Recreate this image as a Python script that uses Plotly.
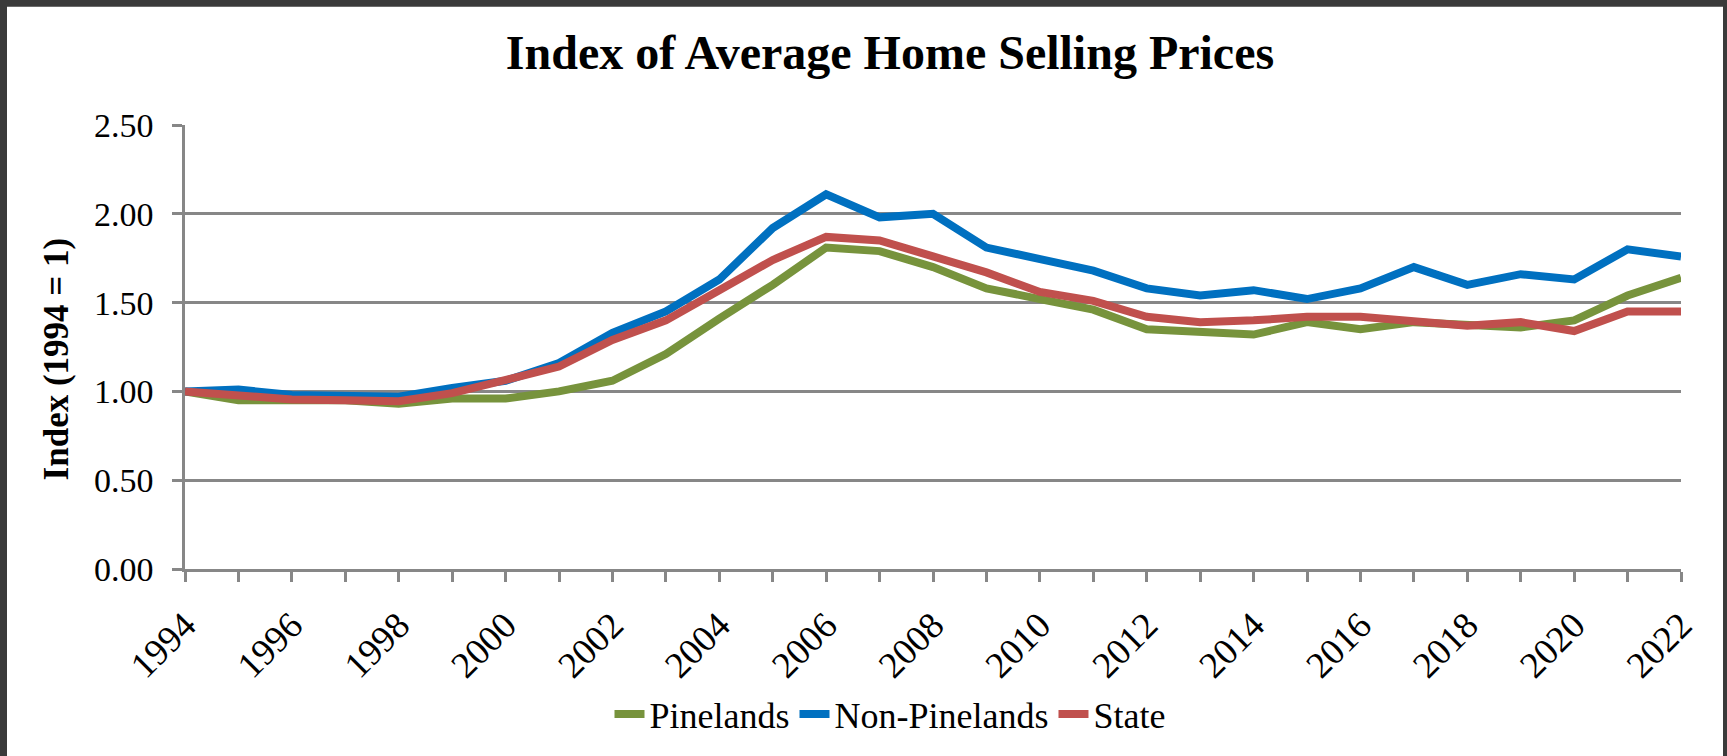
import plotly.graph_objects as go

years = list(range(1994, 2023))
pinelands = [1.00, 0.95, 0.95, 0.95, 0.93, 0.96, 0.96, 1.00, 1.06, 1.21,
             1.41, 1.60, 1.81, 1.79, 1.70, 1.58, 1.52, 1.46, 1.35, 1.34,
             1.32, 1.39, 1.35, 1.39, 1.37, 1.36, 1.40, 1.54, 1.64]
non_pinelands = [1.00, 1.01, 0.98, 0.97, 0.97, 1.02, 1.06, 1.16, 1.33, 1.45,
                 1.63, 1.92, 2.11, 1.98, 2.00, 1.81, 1.75, 1.68, 1.58, 1.54,
                 1.57, 1.52, 1.58, 1.70, 1.60, 1.66, 1.63, 1.80, 1.76]
state = [1.00, 0.98, 0.955, 0.95, 0.945, 0.99, 1.065, 1.14, 1.29, 1.40,
         1.57, 1.74, 1.87, 1.85, 1.76, 1.67, 1.56, 1.51, 1.42, 1.39,
         1.40, 1.42, 1.42, 1.40, 1.37, 1.39, 1.34, 1.45, 1.45]

series_names = ["Pinelands", "Non-Pinelands", "State"]
series_colors = ["#77933C", "#0070C0", "#C0504D"]

W, H = 1727, 756
L, R, T, B = 185, 46, 125, 184
pw, ph = W - L - R, H - T - B

def px_x(p):
    return (p - L) / pw

def px_y(p):
    return (H - B - p) / ph

FONT = "Liberation Serif"
GRID = "#878787"

fig = go.Figure()
for name, vals, col in zip(series_names, [pinelands, non_pinelands, state], series_colors):
    fig.add_trace(go.Scatter(x=years, y=vals, name=name, mode="lines",
                             line=dict(color=col, width=8)))

fig.update_layout(
    width=W, height=H,
    margin=dict(l=L, r=R, t=T, b=B, pad=0),
    paper_bgcolor="#3a3a3a",
    plot_bgcolor="white",
    font=dict(family=FONT, color="black", size=34),
    title=dict(text="Index of Average Home Selling Prices",
               font=dict(family=FONT, size=48, color="black", weight="bold"),
               x=px_x(890), xref="paper", xanchor="center",
               y=1 - 52 / H, yref="container", yanchor="middle"),
    showlegend=True,
    legend=dict(orientation="h", x=px_x(890), xanchor="center",
                y=px_y(718), yanchor="middle",
                font=dict(family=FONT, size=36, color="black"),
                bgcolor="rgba(0,0,0,0)", traceorder="normal"),
    shapes=[dict(type="rect", xref="paper", yref="paper",
                 x0=px_x(7), x1=px_x(1723), y0=px_y(H + 5), y1=px_y(6),
                 fillcolor="white", line=dict(width=0), layer="below")],
    annotations=[dict(text="<b>Index (1994 = 1)</b>", xref="paper", yref="paper",
                      x=px_x(56), y=px_y(361), textangle=-90,
                      xanchor="center", yanchor="middle", showarrow=False,
                      font=dict(family=FONT, size=35, color="black"))],
)

fig.update_xaxes(
    range=[1994, 2022], tick0=1994, dtick=2, tickangle=-45,
    showgrid=False, zeroline=False,
    showline=True, linecolor=GRID, linewidth=2.5,
    ticks="outside", ticklen=10, tickwidth=2.5, tickcolor=GRID,
    tickfont=dict(family=FONT, size=37, color="black"),
    ticklabelstandoff=7,
    minor=dict(dtick=1, tick0=1994, ticks="outside", ticklen=10,
               tickwidth=2.5, tickcolor=GRID, showgrid=False),
)
fig.update_yaxes(
    range=[0, 2.5], dtick=0.5, tick0=0, tickformat=".2f",
    showgrid=True, gridcolor=GRID, gridwidth=2.5, zeroline=False,
    showline=True, linecolor=GRID, linewidth=2.5,
    ticks="outside", ticklen=10, tickwidth=2.5, tickcolor=GRID,
    tickfont=dict(family=FONT, size=34, color="black"),
    ticklabelstandoff=12,
)

fig.write_html("out.html", config={"displayModeBar": False},
               post_script="document.body.style.margin='0px';document.body.style.background='#3a3a3a';")
